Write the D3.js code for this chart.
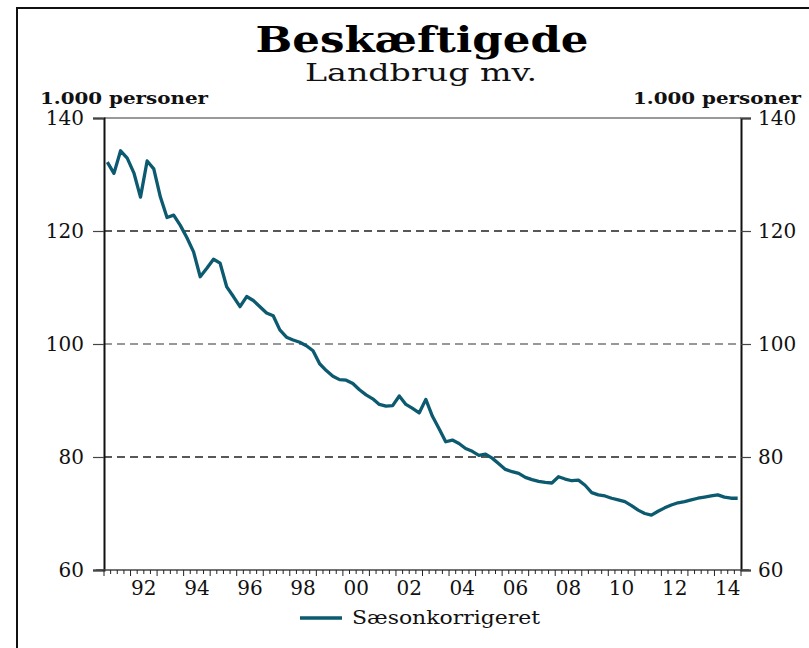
<!DOCTYPE html>
<html>
<head>
<meta charset="utf-8">
<script src="https://cdn.jsdelivr.net/npm/d3@7"></script>
<style>
  body { margin: 0; background: #fff; }
  svg { display: block; font-family: 'DejaVu Serif', 'Liberation Serif', serif; }
</style>
</head>
<body>
<svg id="chart" width="809" height="648"></svg>
<script>
// Quarterly series, 1991Q1 - 2014Q4, 1.000 personer
const startYear = 1991
const values = [
  132.2, 130.2, 134.2, 132.9, 130.3, 126.0, 132.4, 131.0,
  126.0, 122.4, 122.8, 121.0, 118.8, 116.3, 111.9, 113.4,
  115.0, 114.3, 110.1, 108.4, 106.6, 108.4, 107.7, 106.6,
  105.5, 105.0, 102.5, 101.2, 100.7, 100.3, 99.7, 98.8,
  96.5, 95.3, 94.3, 93.7, 93.6, 93.0, 91.9, 91.0,
  90.3, 89.3, 89.0, 89.1, 90.8, 89.3, 88.6, 87.8,
  90.2, 87.2, 85.0, 82.7, 83.0, 82.4, 81.5, 81.0,
  80.3, 80.5, 79.8, 78.8, 77.8, 77.4, 77.1, 76.4,
  76.0, 75.7, 75.5, 75.4, 76.5, 76.1, 75.8, 75.9,
  75.0, 73.7, 73.3, 73.1, 72.7, 72.4, 72.1, 71.4,
  70.6, 70.0, 69.7, 70.4, 71.0, 71.5, 71.9, 72.1,
  72.4, 72.7, 72.9, 73.1, 73.3, 72.9, 72.7, 72.7
]
const yTicks = [60, 80, 100, 120, 140]
const gridValues = [80, 100, 120]
const xLabelYears = [1992, 1994, 1996, 1998, 2000, 2002, 2004, 2006, 2008, 2010, 2012, 2014]
const title = 'Beskæftigede'
const subtitle = 'Landbrug mv.'
const unitLabel = '1.000 personer'
const seriesName = 'Sæsonkorrigeret'

const lineColor = '#0b5a6f'
const margin = { left: 104, right: 741, top: 118, bottom: 570 }

const svg = d3.select('#chart')

// quarter index -> fractional year at the middle of the quarter
const data = values.map((v, i) => ({ t: startYear + (i + 0.5) / 4, v: v }))

const x = d3.scaleLinear()
  .domain([startYear, startYear + values.length / 4])
  .range([margin.left, margin.right])

const y = d3.scaleLinear()
  .domain([60, 140])
  .range([margin.bottom, margin.top])

/**
 * Adds a text squeezed or stretched to a given width.
 *
 * @param {number} xPos The anchor x position
 * @param {number} yPos The baseline y position
 * @param {string} txt The text
 * @param {number} size The font size
 * @param {number} width The wanted width in pixels
 * @param {string} anchor The text anchor
 * @returns {*} The d3 selection of the text
 */
function fittedText (xPos, yPos, txt, size, width, anchor) {
  return svg.append('text')
    .attr('x', xPos)
    .attr('y', yPos)
    .attr('text-anchor', anchor)
    .attr('font-size', size)
    .attr('fill', '#111')
    .attr('textLength', width)
    .attr('lengthAdjust', 'spacingAndGlyphs')
    .text(txt)
}

/**
 * Draws the frame, titles and unit labels.
 */
function drawHeader () {
  svg.append('path')
    .attr('d', 'M17,648 V8 H809')
    .attr('fill', 'none')
    .attr('stroke', '#111')
    .attr('stroke-width', 2)

  fittedText(422, 52, title, 35, 333, 'middle')
    .attr('font-weight', 'bold')
    .attr('fill', '#000')
  fittedText(421, 81, subtitle, 24, 232, 'middle')

  fittedText(40, 104, unitLabel, 16, 168, 'start')
    .attr('font-weight', 'bold')
  fittedText(801, 104, unitLabel, 16, 168, 'end')
    .attr('font-weight', 'bold')
}

/**
 * Draws the dashed grid lines and both y axes.
 */
function drawYAxes () {
  svg.append('g')
    .selectAll('line')
    .data(gridValues)
    .enter()
    .append('line')
    .attr('x1', margin.left)
    .attr('x2', margin.right)
    .attr('y1', d => y(d))
    .attr('y2', d => y(d))
    .attr('stroke', d => d === 100 ? '#777' : '#222')
    .attr('stroke-width', 1.3)
    .attr('stroke-dasharray', '8,5')

  // top frame line at 140
  svg.append('line')
    .attr('x1', margin.left)
    .attr('x2', margin.right)
    .attr('y1', y(140))
    .attr('y2', y(140))
    .attr('stroke', '#777')
    .attr('stroke-width', 1.5)

  const left = svg.append('g')
    .attr('transform', `translate(${margin.left},0)`)
    .call(d3.axisLeft(y).tickValues(yTicks).tickSize(11).tickPadding(9))
  const right = svg.append('g')
    .attr('transform', `translate(${margin.right},0)`)
    .call(d3.axisRight(y).tickValues(yTicks).tickSize(10).tickPadding(7))

  for (const g of [left, right]) {
    g.select('.domain').attr('stroke', '#111').attr('stroke-width', 2)
    g.selectAll('.tick line').attr('stroke', '#444').attr('stroke-width', 1.2)
    g.selectAll('.tick text')
      .attr('font-family', "'DejaVu Serif', serif")
      .attr('font-size', 20)
      .attr('fill', '#111')
  }
}

/**
 * Draws the time axis with quarterly ticks and year labels.
 */
function drawXAxis () {
  const g = svg.append('g')
    .attr('transform', `translate(0,${margin.bottom})`)

  g.append('line')
    .attr('x1', 96)
    .attr('x2', 749)
    .attr('stroke', '#444')
    .attr('stroke-width', 1.5)

  const quarterTicks = d3.range(values.length + 1).map(i => startYear + i / 4)
  g.selectAll('.qtick')
    .data(quarterTicks)
    .enter()
    .append('line')
    .attr('class', 'qtick')
    .attr('x1', d => x(d))
    .attr('x2', d => x(d))
    .attr('y1', 0)
    .attr('y2', d => Number.isInteger(d) ? 6 : 4)
    .attr('stroke', '#222')
    .attr('stroke-width', 1)

  g.selectAll('.xlabel')
    .data(xLabelYears)
    .enter()
    .append('text')
    .attr('class', 'xlabel')
    .attr('x', d => x(d + 0.5))
    .attr('y', 25)
    .attr('text-anchor', 'middle')
    .attr('font-size', 20)
    .attr('fill', '#111')
    .text(d => String(d % 100).padStart(2, '0'))
}

/**
 * Draws the series line and the legend.
 */
function drawSeries () {
  const line = d3.line()
    .x(d => x(d.t))
    .y(d => y(d.v))

  svg.append('path')
    .datum(data)
    .attr('fill', 'none')
    .attr('stroke', lineColor)
    .attr('stroke-width', 3.3)
    .attr('stroke-linejoin', 'round')
    .attr('d', line)

  svg.append('line')
    .attr('x1', 300)
    .attr('x2', 342)
    .attr('y1', 618)
    .attr('y2', 618)
    .attr('stroke', lineColor)
    .attr('stroke-width', 3.3)

  fittedText(352, 624, seriesName, 18, 188, 'start')
}

drawHeader()
drawYAxes()
drawXAxis()
drawSeries()
</script>
</body>
</html>
